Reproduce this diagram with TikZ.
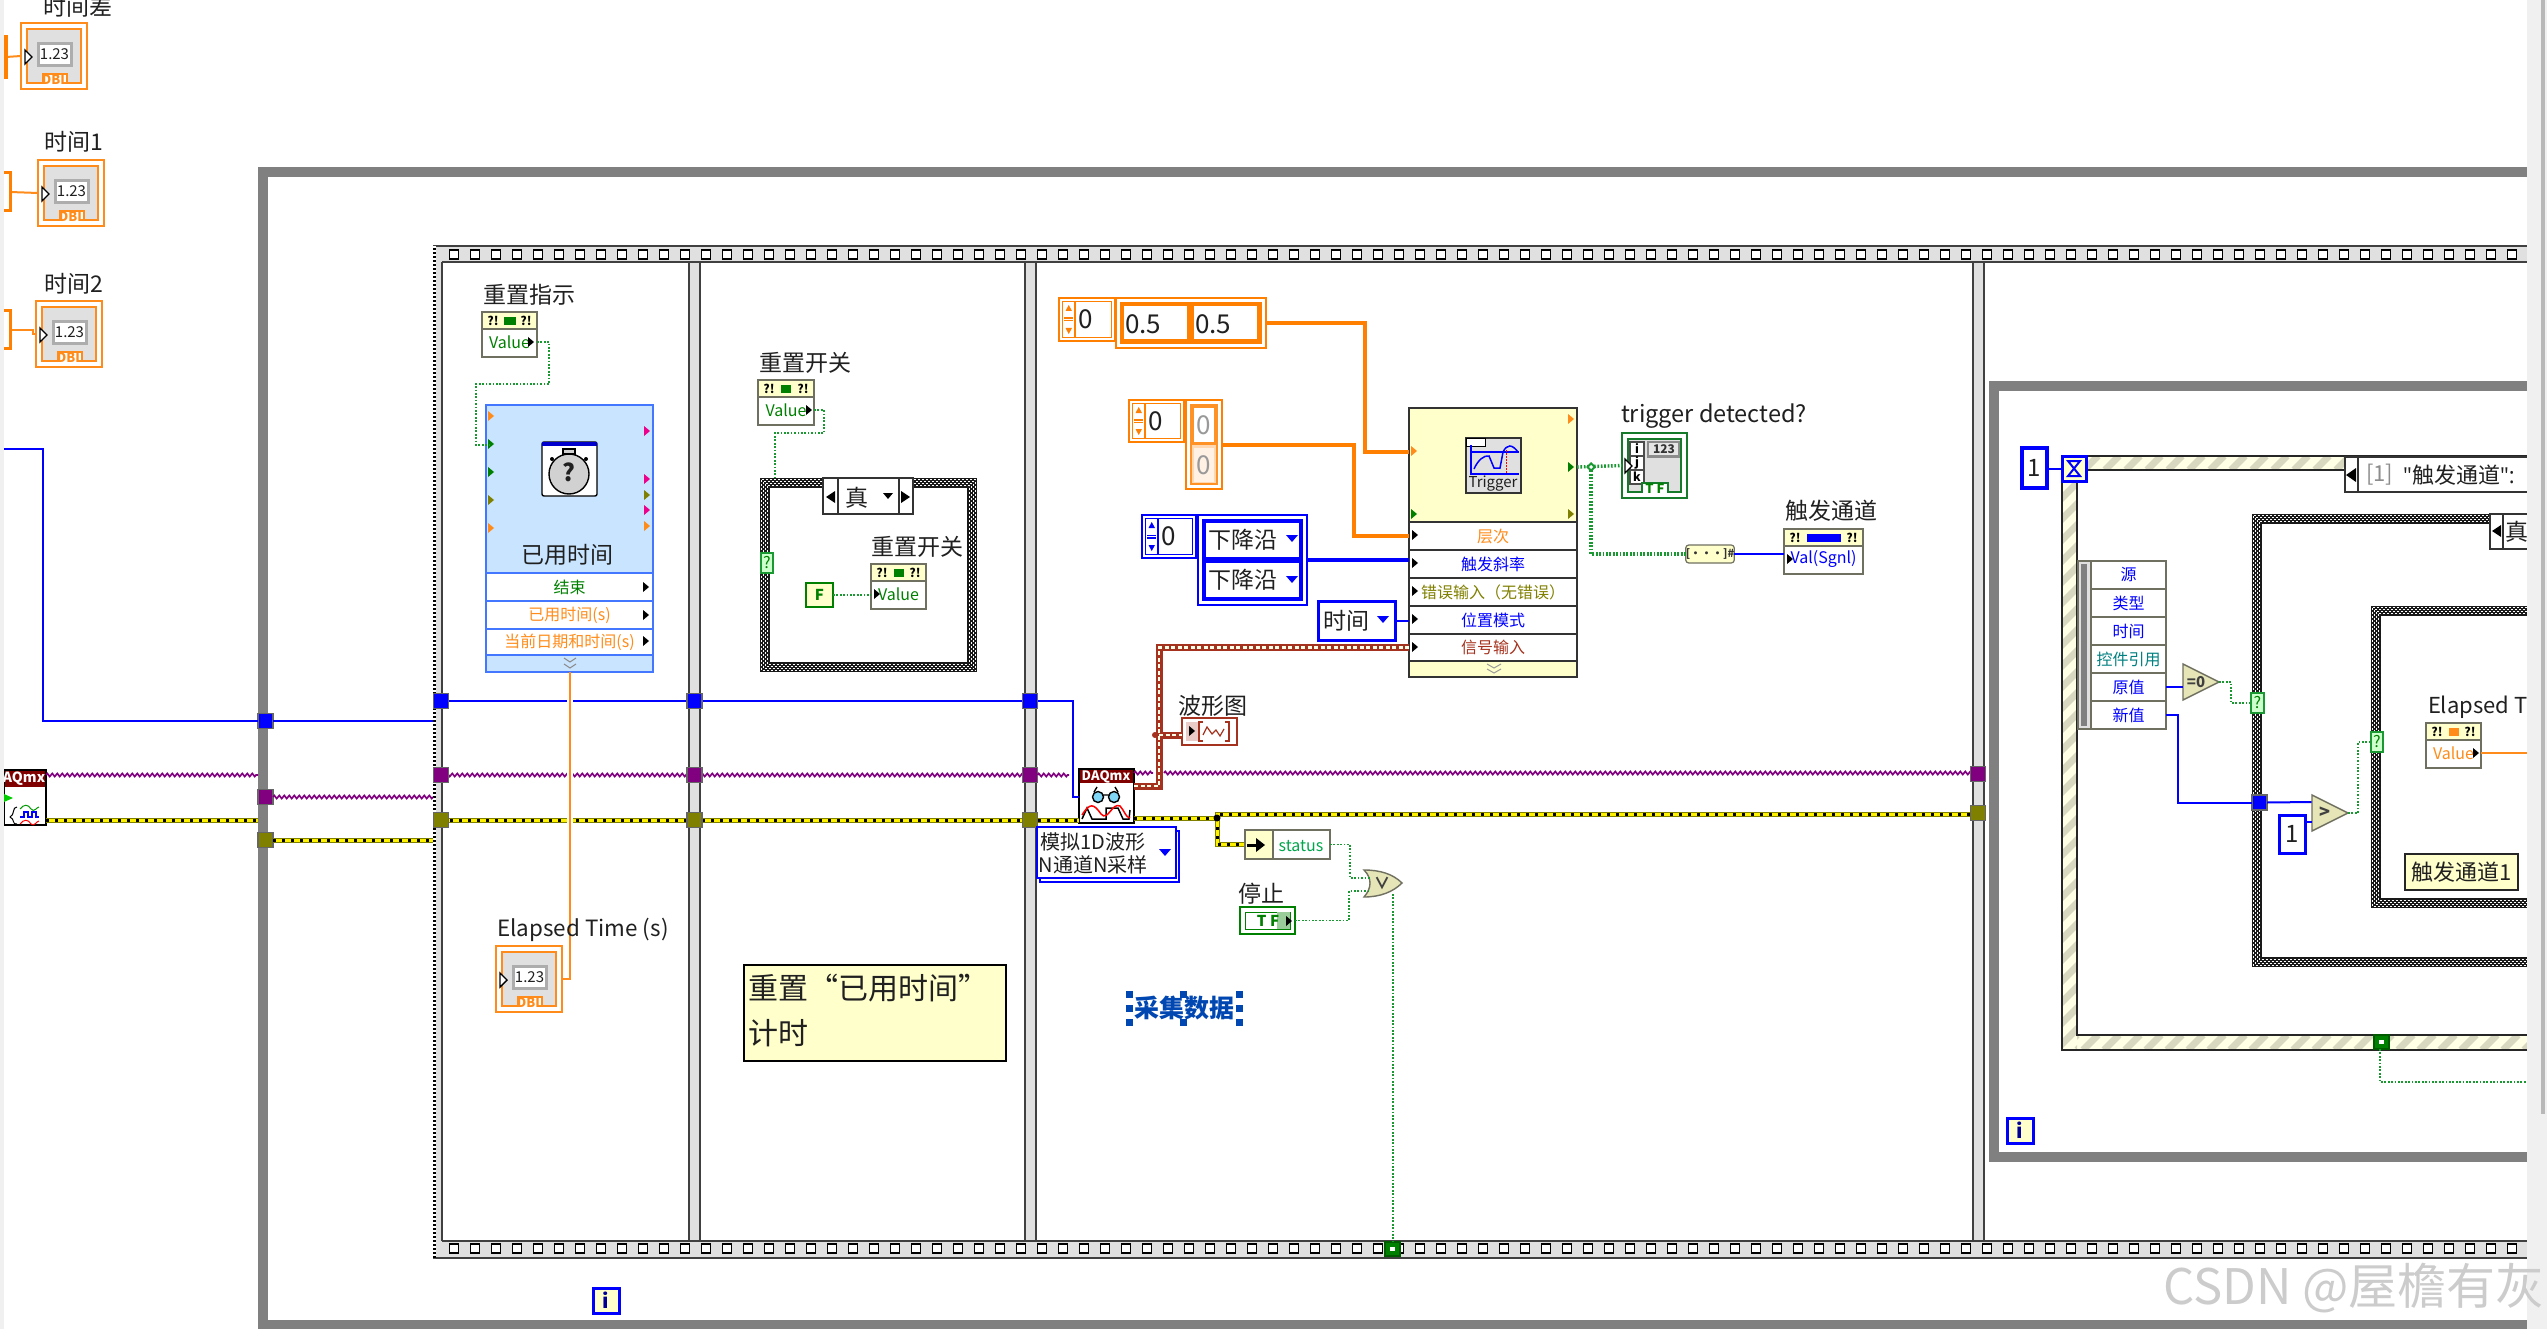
\documentclass[tikz,border=0pt]{standalone}
\usepackage{fontspec}
\setmainfont{Noto Sans CJK SC}
\newfontfamily\latf{Open Sans}
\usetikzlibrary{decorations.pathmorphing}
\definecolor{wor}{HTML}{FF8C1A}
\definecolor{wor2}{HTML}{FF7F00}
\definecolor{wbl}{HTML}{0000FF}
\definecolor{wpu}{HTML}{800080}
\definecolor{wgr}{HTML}{1A9933}
\definecolor{dgr}{HTML}{008000}
\definecolor{olv}{HTML}{808000}
\definecolor{cream}{HTML}{FFFFCC}
\definecolor{cream2}{HTML}{FFFFE6}
\definecolor{strp}{HTML}{D8D8C0}
\definecolor{lg}{HTML}{E0E0E0}
\definecolor{ink}{HTML}{202020}
\definecolor{edgeg}{HTML}{707060}
\definecolor{brn}{HTML}{A5321E}
\definecolor{xpb}{HTML}{4477FF}
\definecolor{xpf}{HTML}{C8E4FF}
\newcommand{\fpx}[1]{\fontsize{#1}{#1}\selectfont}
\newcommand{\dnt}[1]{\raisebox{-2pt}{#1}}
\tikzset{
 lbl/.style={font=\fpx{23},inner sep=0,outer sep=0,text=ink},
 smalltxt/.style={font=\fpx{16},inner sep=0,outer sep=0},
 bw/.style={wbl,line width=2},
 bwk/.style={wbl,line width=3.2},
 owk/.style={wor2,line width=4},
 ow/.style={wor,line width=2},
 gdot/.style={wgr,line width=1.7,dash pattern=on 1.7 off 1.7},
 gdotk/.style={wgr,line width=3.4,dash pattern=on 1.7 off 1.7},
 pwire/.style={wpu,line width=1.7,decorate,decoration={zigzag,segment length=5,amplitude=1.5}},
 ybase/.style={olv,line width=5},
 yfill/.style={yellow,line width=3},
 ydash/.style={black,line width=3,dash pattern=on 3 off 6},
 rbase/.style={brn,line width=7},
 rdash/.style={white!90!yellow,line width=2.2,dash pattern=on 4 off 2.5},
 seqline/.style={black!75,line width=1.3},
 perf/.style={draw=black,line width=1.6,fill=white},
}
% name x1 y1 x2 y2 style text
\newcommand{\rbox}[7]{\node[inner sep=0,outer sep=0,minimum width={(#4)-(#2)},minimum height={(#5)-(#3)},#6] (#1) at ({((#2)+(#4))/2},{((#3)+(#5))/2}) {#7};}
\newcommand{\tri}[3]{\fill[#3] ({#1-3},{#2-5}) -- ({#1+3},#2) -- ({#1-3},{#2+5}) -- cycle;}
\newcommand{\tun}[4]{\rbox{#1}{#2-7.5}{#3-7.5}{#2+7.5}{#3+7.5}{fill=#4,draw=black!60,line width=1.2}{}}
\newcommand{\dblind}[3]{%
 \rbox{#1}{#2}{#3}{#2+66}{#3+66}{draw=wor,line width=1.8,fill=white}{}
 \begin{scope}[shift={(#2,#3)}]
 \draw[wor,line width=1.8,fill=lg] (6,6) rectangle (60,60);
 \fill[black!32] (16,19) rectangle (52,44);
 \fill[white] (19,22) rectangle (49,41);
 \node[font=\fpx{15},text=ink,inner sep=0] at (33.5,31.5) {1.23};
 \draw[wor,line width=1.6,fill=white] (22,61) -- (22,51) -- (46,51) -- (46,61);
 \node[font=\fpx{13}\bfseries,text=wor,inner sep=0] at (34,57) {DBL};
 \draw[black,line width=1.4,fill=white] (4,27) -- (11,34) -- (4,41) -- cycle;
 \end{scope}}
% local variable: name x1 y1 x2 text colour halfbar
\newcommand{\lvar}[7]{%
 \rbox{#1}{#2}{#3}{#4}{#3+45}{draw=edgeg,line width=1.6,fill=white}{}
 \draw[edgeg,line width=1.4,fill=cream] (#2,#3) rectangle (#4,{#3+17});
 \node[font=\fpx{12}\bfseries,inner sep=0] at ({#2+11},{#3+8.5}) {?!};
 \node[font=\fpx{12}\bfseries,inner sep=0] at ({#4-11},{#3+8.5}) {?!};
 \fill[#6] ({(#2+#4)/2-#7},{#3+5}) rectangle ({(#2+#4)/2+#7},{#3+13});
 \node[smalltxt,text=#6] at ({(#2+#4)/2},{#3+30}) {#5};
}
\newcommand{\spinner}[6]{% name x1 y1 x2 y2 colour
 \rbox{#1}{#2}{#3}{#4}{#5}{draw=#6,line width=1.4,fill=white}{}
 \draw[#6,line width=1.2] ({#2+3.5},{#3+3.5}) rectangle ({#4-3.5},{#5-3.5});
 \draw[#6,line width=1.2,fill=white] ({#2+3.5},{#3+3.5}) rectangle ({#2+16},{#5-3.5});
 \fill[#6] ({#2+5},{(#3+#5)/2-2}) rectangle ({#2+14},{(#3+#5)/2-.5});
 \fill[#6] ({#2+5},{(#3+#5)/2+.5}) rectangle ({#2+14},{(#3+#5)/2+2});
 \fill[#6] ({#2+9.7},{#3+7}) -- ({#2+13},{#3+13}) -- ({#2+6.5},{#3+13}) -- cycle;
 \fill[#6] ({#2+9.7},{#5-7}) -- ({#2+13},{#5-13}) -- ({#2+6.5},{#5-13}) -- cycle;
 \node[font=\fpx{26},text=ink,inner sep=0] at ({#2+27},{(#3+#5)/2}) {0};
}
\newcommand{\casebd}[4]{%
 \draw[black!90,line width=10] ({#1+5},{#2+5}) rectangle ({#3-5},{#4-5});
 \foreach \i in {1.5,3.5,5.5,7.5}
  \draw[white,line width=1.5,dash pattern=on 2 off 2] ({#1+\i},{#2+\i}) rectangle ({#3-\i},{#4-\i});
}
\newcommand{\stripes}[4]{%
 \begin{scope}
 \clip (#1,#2) rectangle (#3,#4);
 \fill[cream2] (#1,#2) rectangle (#3,#4);
 \pgfmathtruncatemacro{\nn}{(#3-#1+#4-#2)/21+1}
 \foreach \k in {0,...,\nn}
  \draw[strp,line width=7] ({#1-(#4-#2)+21*\k},#4) -- ({#1+21*\k},#2);
 \end{scope}
}
\begin{document}
\begin{tikzpicture}[x=1pt,y=-1pt]
\useasboundingbox (0,0) rectangle (2547,1329);
\fill[white] (0,0) rectangle (2547,1329);
\begin{scope}
\clip (4,-5) rectangle (2527,1329);
% ---------- outer while loop
\draw[black!50,line width=10] (2600,172) -- (263,172) -- (263,1325) -- (2600,1325);
% ---------- flat sequence frame
\fill[lg] (433,246) rectangle (2600,262);
\fill[lg] (433,1241) rectangle (2600,1258);
\fill[lg] (433,246) rectangle (442,1258);
\foreach \a/\b in {689/700,1025/1036,1973/1984}{
 \fill[lg] (\a,246) rectangle (\b,1258);
 \draw[seqline] (\a,262) -- (\a,1241);
 \draw[seqline] (\b,262) -- (\b,1241);
}
\draw[seqline] (442,262) -- (442,1241);
\draw[seqline] (433,246) -- (2600,246);
\draw[seqline] (442,262) -- (2600,262);
\draw[seqline] (442,1241) -- (2600,1241);
\draw[seqline] (433,1258) -- (2600,1258);
\draw[black,line width=2.4] (434.5,246) -- (434.5,1258);
\draw[white,line width=2.4,dash pattern=on 2 off 2] (434.5,246) -- (434.5,1258);
\foreach \k in {0,...,98}{
 \draw[perf] ({449.5+21*\k},250) rectangle +(9,9);
 \draw[perf] ({449.5+21*\k},1244) rectangle +(9,9);
}
% ---------- left indicators
\node[lbl] (lcha) at (78,7) {时间差};
\node[lbl] (lt1) at (74,142) {时间1};
\node[lbl] (lt2) at (74,284) {时间2};
\dblind{icha}{21}{23}
\dblind{it1}{38}{160}
\dblind{it2}{36}{301}
\coordinate (bcha) at (6,57);
\coordinate (bt1) at (10,192);
\coordinate (bt2) at (10,330);
\draw[ow] (bcha) -- (icha.west);
\draw[ow] (bt1) -- (it1.west);
\draw[ow] (bt2) -- ++(23,0) -- ++(0,4) -- (it2.west);
\draw[wor2,line width=3.5] (4,37) -- (6,37) -- (6,77) -- (4,77);
\draw[wor2,line width=3] (4,173) -- (10,173) -- (10,211) -- (4,211);
\draw[wor2,line width=3] (4,311) -- (10,311) -- (10,348) -- (4,348);
% ---------- AQmx task node
\rbox{aq}{4}{770}{46}{825}{draw=black,line width=1.5,fill=white}{}
\fill[red!50!black] (5,771) rectangle (45,787);
\node[font=\fpx{14}\bfseries,text=white,inner sep=0] at (24,779) {AQmx};
\fill[green!80!black] (4,794) -- (13,798) -- (4,802) -- cycle;
\draw[black,line width=1] (17,807) .. controls (12,807) and (15,815) .. (10,817) .. controls (15,819) and (12,825) .. (17,824);
\draw[green!60!black,line width=1] (20,809) .. controls (24,804) and (28,804) .. (31,809) .. controls (34,813) and (37,807) .. (39,807);
\draw[wbl,line width=1.2] (20,817) -- (24,817) -- (24,812) -- (28,812) -- (28,817) -- (32,817) -- (32,812) -- (36,812) -- (36,817) -- (39,817);
\draw[red,line width=1] (20,824) .. controls (24,819) and (28,819) .. (31,824) .. controls (34,827) and (37,821) .. (39,821);
% ---------- tunnels
\tun{t1b}{265.5}{721}{wbl}
\tun{t1p}{265.5}{797}{wpu}
\tun{t1y}{265.5}{840}{olv}
\coordinate (sb) at (4,449);
\draw[bw] (sb) -- ++(39,0) |- (t1b.west);
\draw[bw] (t1b.east) -- (433,721);
\draw[pwire] (aq.east |- 0,775) -- (258,775);
\draw[pwire] (t1p.east) -- (433,797);
\foreach \s in {ybase,yfill,ydash}{
 \draw[\s] (aq.east |- 0,820) -- (258,820);
 \draw[\s] (t1y.east) -- (433,840);
}
% ---------- wires through frames
\draw[bw] (441,701) -- (1030,701);
\draw[pwire] (441,775) -- (1030,775);
\foreach \s in {ybase,yfill,ydash}{\draw[\s] (441,820) -- (1030,820);}
\tun{t2b}{441}{701}{wbl}
\tun{t2p}{441}{775}{wpu}
\tun{t2y}{441}{820}{olv}
\tun{t3b}{694.5}{701}{wbl}
\tun{t3p}{694.5}{775}{wpu}
\tun{t3y}{694.5}{820}{olv}
\tun{t4b}{1030}{701}{wbl}
\tun{t4p}{1030}{775}{wpu}
\tun{t4y}{1030}{820}{olv}
% ---------- frame 1
\node[lbl] (l1) at (529,295) {重置指示};
\lvar{v1}{482}{312}{537}{Value}{dgr}{6}
\tri{531}{342}{black}
\rbox{ev}{486}{405}{653}{672}{draw=xpb,line width=2,fill=xpf}{}
\node[lbl] at (567,555) {已用时间};
\rbox{evr1}{486}{573}{653}{601}{draw=xpb,line width=1.5,fill=white,smalltxt,text=dgr}{\dnt{结束}}
\rbox{evr2}{486}{601}{653}{629}{draw=xpb,line width=1.5,fill=white,smalltxt,text=wor}{\dnt{已用时间(s)}}
\rbox{evr3}{486}{629}{653}{655}{draw=xpb,line width=1.5,fill=white,smalltxt,text=wor}{\dnt{当前日期和时间(s)}}
\foreach \yy in {587,615,641} {\tri{646}{\yy}{black}}
\foreach \yy/\cc in {416/wor,444/dgr,472/dgr,500/olv,528/wor} {\tri{491}{\yy}{\cc}}
\foreach \yy/\cc in {431/magenta,479/magenta,495/olv,510/magenta,526/wor} {\tri{647}{\yy}{\cc}}
\draw[black!45,line width=1] (564,658) -- (570,662) -- (576,658) (564,664) -- (570,668) -- (576,664);
\rbox{clk}{542}{442}{597}{496}{draw=black,line width=1.4,fill=white,rounded corners=2}{}
\fill[blue!80!black] (542,442) rectangle (597,446);
\draw[black,line width=1.4,fill=black!18] (569,474) circle (20);
\draw[black,line width=1.4,fill=black!18] (563,449) rectangle (575,454);
\fill[black] (552,459) circle (2) (586,459) circle (2);
\node[font=\fpx{24}\bfseries,inner sep=0,text=ink] at (569,472) {?};
\coordinate (evg) at (489,445);
\draw[gdot] (v1.east |- 0,342) -- ++(12,0) -- ++(0,42) -- ++(-73,0) |- (evg);
\dblind{ie}{496}{946}
\draw[white,line width=6] (570,695) -- (570,830);
\draw[ow] (ev.south -| 570,0) -- ++(0,307) -- (ie.east |- 0,979);
\node[lbl,font=\fpx{22.4}] (el1) at (583,929.5) {Elapsed Time (s)};
% ---------- frame 2
\node[lbl] (l2) at (805,363) {重置开关};
\lvar{v2}{758}{380}{814}{Value}{dgr}{5}
\tri{809}{410}{black}
\casebd{760}{478}{977}{672}
\rbox{sel2}{823}{478}{913}{514}{draw=black!80,line width=1.4,fill=white}{}
\draw[black!80,line width=1.4] (838,478) -- (838,514) (899,478) -- (899,514);
\node[lbl] at (857,498) {真};
\fill[black] (826,497) -- (835,491) -- (835,503) -- cycle;
\fill[black] (910,497) -- (901,491) -- (901,503) -- cycle;
\fill[black] (883,493) -- (893,493) -- (888,499) -- cycle;
\rbox{q2}{761}{553}{773}{573}{draw=wgr,line width=1.2,fill=white!80!green,smalltxt,text=dgr}{?}
\coordinate (c2top) at (775,478);
\draw[gdot] (v2.east |- 0,410) -- ++(10,0) -- ++(0,23) -- ++(-49,0) -- (c2top);
\node[lbl] (l3) at (917,547) {重置开关};
\lvar{v3}{871}{564}{926}{Value}{dgr}{5}
\tri{877}{594}{black}
\rbox{fc}{806}{583}{833}{607}{draw=dgr,line width=2.6,fill=cream,font=\fpx{15}\bfseries,text=dgr}{F}
\draw[gdot] (fc.east) -- (v3.west |- fc.east);
\rbox{cmt}{744}{965}{1006}{1061}{draw=black,line width=1.2,fill=cream}{}
\node[font=\fpx{30},inner sep=0,anchor=west,text=ink] at (748,988) {重置“已用时间”};
\node[font=\fpx{30},inner sep=0,anchor=west,text=ink] at (748,1033) {计时};
% ---------- frame 3 constants
\spinner{i1}{1059}{298}{1115}{341}{wor2}
\rbox{ar1}{1116}{298}{1266}{348}{draw=wor2,line width=1.2,fill=white}{}
\fill[wor2] (1120,302) rectangle (1262,344);
\rbox{c11}{1124}{306}{1187}{339}{fill=white}{}
\rbox{c12}{1194}{306}{1257}{339}{fill=white}{}
\node[font=\fpx{26},text=ink,inner sep=0,anchor=west] at (1125,324) {0.5};
\node[font=\fpx{26},text=ink,inner sep=0,anchor=west] at (1195,324) {0.5};
\spinner{i2}{1129}{400}{1184}{442}{wor2}
\rbox{ar2}{1186}{400}{1222}{489}{draw=wor2,line width=1.2,fill=white}{}
\fill[wor2!85] (1190,404) rectangle (1218,485);
\fill[wor2!30] (1192,445) rectangle (1216,483);
\rbox{c21}{1194}{408}{1214}{442}{fill=white,font=\fpx{26},text=black!40}{0}
\rbox{c22}{1194}{448}{1214}{482}{fill=white!90!wor2,font=\fpx{26},text=black!40}{0}
\spinner{i3}{1142}{515}{1196}{558}{wbl}
\rbox{ar3}{1198}{515}{1307}{605}{draw=wbl,line width=1.2,fill=white}{}
\fill[wbl] (1202,519) rectangle (1303,601);
\rbox{c31}{1206}{523}{1299}{557}{fill=white}{}
\rbox{c32}{1206}{563}{1299}{597}{fill=white}{}
\node[lbl] at (1243,540) {下降沿};
\node[lbl] at (1243,580) {下降沿};
\fill[wbl] (1286,535) -- (1298,535) -- (1292,542) -- cycle;
\fill[wbl] (1286,576) -- (1298,576) -- (1292,583) -- cycle;
\rbox{en}{1318}{601}{1395}{640}{draw=wbl,line width=3,fill=white}{}
\node[lbl] at (1346,621) {时间};
\fill[wbl] (1377,616) -- (1389,616) -- (1383,623) -- cycle;
% ---------- trigger express VI
\rbox{tg}{1409}{408}{1577}{677}{draw=black!80,line width=1.8,fill=cream}{}
\rbox{rL}{1409}{522}{1577}{550}{draw=black!80,line width=1.6,fill=white,smalltxt,text=wor}{\dnt{层次}}
\rbox{rS}{1409}{550}{1577}{578}{draw=black!80,line width=1.6,fill=white,smalltxt,text=wbl}{\dnt{触发斜率}}
\rbox{rE}{1409}{578}{1577}{606}{draw=black!80,line width=1.6,fill=white,smalltxt,text=olv}{\dnt{错误输入（无错误）}}
\rbox{rP}{1409}{606}{1577}{634}{draw=black!80,line width=1.6,fill=white,smalltxt,text=wbl}{\dnt{位置模式}}
\rbox{rI}{1409}{634}{1577}{661}{draw=black!80,line width=1.6,fill=white,smalltxt,text=brn}{\dnt{信号输入}}
\foreach \yy in {535,563,591,619,647} {\tri{1415}{\yy}{black}}
\tri{1414}{451}{wor}
\tri{1414}{514}{dgr}
\tri{1571}{419}{wor}
\tri{1571}{467}{dgr}
\tri{1571}{514}{olv}
\draw[black!40,line width=1] (1487,664) -- (1494,668) -- (1501,664) (1487,669) -- (1494,673) -- (1501,669);
\rbox{trg}{1466}{438}{1521}{493}{draw=black!80,line width=1.6,fill=lg}{}
\draw[black,line width=1,fill=white] (1466,438) rectangle (1485,446);
\draw[wbl,line width=1.4] (1471,445) -- (1471,474) -- (1519,474);
\draw[wbl,line width=1.4] (1471,452) -- (1519,452);
\draw[wbl,line width=1.5] (1474,469) .. controls (1478,460) and (1484,455) .. (1489,456) -- (1494,468) -- (1500,468) -- (1503,452) .. controls (1507,444) and (1512,444) .. (1518,452);
\draw[red,line width=1,dash pattern=on 1.5 off 1.5] (1506,450) -- (1506,474);
\node[font=\fpx{15},inner sep=0,text=ink] at (1493,484) {Trigger};
\coordinate (tgA) at (1409,452);
\coordinate (tgO) at (1577,467);
\draw[owk] (ar1.east) -- ++(99,0) |- (tgA);
\draw[owk] (ar2.east) -- ++(132,0) |- (rL.west);
\draw[bwk] (ar3.east) -- (ar3.east -| rS.west);
\draw[bw] (en.east) -- (en.east -| rP.west);
% ---------- outputs
\node[lbl,font=\fpx{23.5}] (ltd) at (1714,416) {trigger detected?};
\rbox{tf}{1622}{433}{1687}{498}{draw=wgr!80!black,line width=1.8,fill=white}{}
\draw[wgr!80!black,line width=1.8,fill=lg] (1628,439) rectangle (1681,492);
\fill[black!45] (1647,441) rectangle (1680,458);
\fill[black!10] (1649,443) rectangle (1678,455);
\fill[white] (1630,442) rectangle (1644,484);
\draw[black!70,line width=1.2] (1630,442) rectangle (1644,484) (1630,456) -- (1644,456) (1630,470) -- (1644,470);
\node[font=\fpx{12}\bfseries,inner sep=0] at (1637,449) {i};
\node[font=\fpx{12}\bfseries,inner sep=0] at (1637,463) {j};
\node[font=\fpx{12}\bfseries,inner sep=0] at (1637,477) {k};
\node[font=\fpx{12}\bfseries,inner sep=0,text=black!80] at (1664,449) {123};
\draw[wgr!80!black,line width=1.6,fill=white] (1642,493) -- (1642,483) -- (1668,483) -- (1668,493);
\node[font=\fpx{13}\bfseries,inner sep=0,text=dgr] at (1655,488.5) {T F};
\draw[black,line width=1.2,fill=white] (1625,459) -- (1632,466) -- (1625,473) -- cycle;
\node[lbl] (ltc) at (1831,511) {触发通道};
\lvar{v4}{1784}{529}{1863}{Val(Sgnl)}{wbl}{17}
\tri{1790}{559}{black}
\rbox{a2n}{1688}{545}{1732}{563}{draw=edgeg,line width=1.2,fill=cream,rounded corners=3,font=\fpx{11}\bfseries,text=black!80}{[···]\#}
\coordinate (jn) at (1591,467);
\draw[gdotk] (tgO) -- (tf.west);
\draw[gdotk] (jn) |- (a2n.west);
\fill[wgr] (1591,462) -- (1596,467) -- (1591,472) -- (1586,467) -- cycle;
\fill[white] (1591,465) -- (1593,467) -- (1591,469) -- (1589,467) -- cycle;
\draw[bw] (a2n.east) -- (a2n.east -| v4.west);
% ---------- DAQmx read
\rbox{daq}{1079}{769}{1134}{823}{draw=black,line width=1.6,fill=white}{}
\fill[red!50!black] (1080,770) rectangle (1133,783);
\node[font=\fpx{13}\bfseries,text=white,inner sep=0] at (1106,777) {DAQmx};
\draw[black,line width=1.4,fill=cyan!50] (1098,797) circle (5.5) (1114,797) circle (5.5);
\draw[black,line width=1.4] (1103,795) -- (1109,795) (1094,792) -- (1097,787) (1118,792) -- (1115,787);
\draw[black,line width=1.5] (1082,819) -- (1087,808) -- (1092,819) -- (1106,819) -- (1106,808) -- (1118,808) -- (1123,819) -- (1129,819) -- (1130,810);
\draw[red,line width=1.5] (1082,815) .. controls (1090,802) and (1094,804) .. (1101,814) .. controls (1108,822) and (1112,802) .. (1120,806) .. controls (1124,810) and (1126,818) .. (1130,818);
\coordinate (dqb) at (1079,797);
\draw[bw] (t4b.east) -- ++(35,0) |- (dqb);
\draw[pwire] (t4p.east) -- (1069,775);
\draw[pwire] (daq.east |- 0,773) -- (1153,773);
\draw[pwire] (1164,773) -- (1978,773);
\foreach \s in {ybase,yfill,ydash}{\draw[\s] (t4y.east) -- (daq.west |- t4y.east);}
\coordinate (yj) at (1217,818);
\rbox{st}{1245}{830}{1330}{859}{draw=edgeg,line width=1.5,fill=white}{}
\foreach \s in {ybase,yfill,ydash}{
 \draw[\s] (daq.east |- yj) -- (yj) -- ++(0,-4) -- (1978,814);
 \draw[\s] (yj) |- (st.west);
}
\tun{t5p}{1978}{774}{wpu}
\tun{t5y}{1978}{813}{olv}
\fill[black] (1217,818) circle (3.5);
\draw[edgeg,line width=1.5,fill=cream] (1245,830) rectangle (1273,859);
\draw[black,line width=3] (1247,845) -- (1258,845);
\fill[black] (1256,838) -- (1265,845) -- (1256,852) -- cycle;
\node[smalltxt,text=dgr!70!cyan] at (1301,846) {status};
\rbox{en2sh}{1040}{831}{1179}{882}{draw=wbl,line width=1.6,fill=white}{}
\rbox{en2}{1037}{827}{1176}{878}{draw=wbl,line width=1.6,fill=white}{}
\node[font=\fpx{20},inner sep=0,text=ink] at (1093,842) {模拟1D波形};
\node[font=\fpx{20},inner sep=0,text=ink] at (1093,865) {N通道N采样};
\fill[wbl] (1159,849) -- (1171,849) -- (1165,856) -- cycle;
% waveform wire
\coordinate (rj) at (1159,735);
\node[lbl] (lwf) at (1213,706) {波形图};
\rbox{wf}{1182}{718}{1237}{745}{draw=brn,line width=1.6,fill=white}{}
\fill[brn!25] (1186,722) rectangle (1199,741);
\tri{1192}{731}{black}
\draw[brn,line width=1.4] (1203,722) -- (1199,722) -- (1199,741) -- (1203,741) (1225,722) -- (1229,722) -- (1229,741) -- (1225,741);
\draw[brn,line width=1.2] (1203,735) -- (1207,727) -- (1212,734) -- (1216,730) -- (1220,736) -- (1224,729);
\foreach \s in {rbase,rdash}{
 \draw[\s] (daq.east |- 0,786) -| (rj) |- (rI.west);
 \draw[\s] (rj) -- (wf.west |- rj);
}
\fill[brn] (1155,735) circle (3);
% or gate, stop
\coordinate (orA) at (1370,878);
\coordinate (orB) at (1368,891);
\coordinate (orO) at (1393,894);
\draw[edgeg,line width=1.4,fill=cream!90!black] (1364,870) .. controls (1380,870) and (1393,874) .. (1402,883) .. controls (1393,892) and (1380,897) .. (1364,897) .. controls (1372,888) and (1372,878) .. (1364,870) -- cycle;
\node[font=\fpx{16}\bfseries,inner sep=0,text=black!75] at (1382,883) {∨};
\node[lbl] (lst) at (1261,894) {停止};
\rbox{stp}{1240}{907}{1295}{934}{draw=dgr,line width=2.8,fill=white}{}
\draw[dgr,line width=1] (1245,912) rectangle (1290,929);
\fill[dgr!40] (1277,912) rectangle (1290,929);
\node[font=\fpx{15}\bfseries,inner sep=0,text=dgr] at (1268,921) {T F};
\tri{1289}{921}{black}
\draw[gdot] (st.east) -- ++(20,0) |- (orA);
\draw[gdot] (stp.east) -- ++(54,0) |- (orB);
\rbox{cond}{1385}{1242}{1400}{1256}{fill=dgr,draw=dgr!70!black,line width=1.2}{}
\fill[white] (1390,1247) rectangle (1395,1251);
\draw[gdot] (orO) -- (cond.north -| orO);
\rbox{cap}{1129}{994}{1239}{1022}{font=\fpx{25}\bfseries,text=blue!60!cyan!70!black}{采集数据}
\foreach \hx in {1129,1183,1239}\foreach \hy in {994,1022}{\fill[blue!60!cyan!70!black] ({\hx-3.5},{\hy-3.5}) rectangle ++(7,7);}
\foreach \hx in {1129,1239}{\fill[blue!60!cyan!70!black] ({\hx-3.5},1004.5) rectangle ++(7,7);}
% info terminal
\rbox{iA}{593}{1288}{619}{1313}{draw=wbl,line width=3,fill=cream,font=\fpx{20}\bfseries,text=blue!60!black}{i}
% ---------- frame 4: inner while
\draw[black!50,line width=10] (2600,385.5) -- (1994,385.5) -- (1994,1157) -- (2600,1157);
\rbox{iB}{2007}{1118}{2033}{1143}{draw=wbl,line width=3,fill=cream,font=\fpx{20}\bfseries,text=blue!60!black}{i}
% event structure
\stripes{2077}{456}{2600}{470}
\stripes{2077}{1035}{2600}{1050}
\stripes{2062}{456}{2077}{1050}
\draw[black!85,line width=1.5] (2600,456) -- (2062,456) -- (2062,1050) -- (2600,1050);
\draw[black!85,line width=1.5] (2600,470) -- (2077,470) -- (2077,1035) -- (2600,1035);
\rbox{sev}{2345}{457}{2600}{492}{draw=black!80,line width=1.4,fill=white}{}
\draw[black!80,line width=1.4] (2358,457) -- (2358,492);
\fill[black] (2346,475) -- (2356,468) -- (2356,482) -- cycle;
\node[font=\fpx{22},inner sep=0,anchor=west,text=black!45] (evn) at (2366,475) {[1]};
\node[font=\fpx{22},inner sep=0,anchor=west,text=ink] (evt) at (2403,475) {{\latf"}触发通道{\latf":}};
\rbox{to}{2022}{448}{2047}{488}{draw=wbl,line width=3.2,fill=white,font=\fpx{24},text=ink}{1}
\rbox{hg}{2062}{456}{2086}{481}{draw=wbl,line width=3,fill=cream}{}
\draw[wbl,line width=2] (2068,461) -- (2080,461) -- (2068,476) -- (2080,476) -- cycle;
\draw[bw] (to.east |- hg.west) -- (hg.west);
% event data node
\rbox{edb}{2078}{561}{2091}{729}{draw=edgeg,line width=1.4,fill=lg}{}
\fill[black!50] (2081,564) rectangle (2087,726);
\rbox{e1}{2091}{561}{2166}{589}{draw=edgeg,line width=1.5,fill=white,smalltxt,text=wbl}{源}
\rbox{e2}{2091}{589}{2166}{617}{draw=edgeg,line width=1.5,fill=white,smalltxt,text=wbl}{类型}
\rbox{e3}{2091}{617}{2166}{645}{draw=edgeg,line width=1.5,fill=white,smalltxt,text=wbl}{时间}
\rbox{e4}{2091}{645}{2166}{673}{draw=edgeg,line width=1.5,fill=white,smalltxt,text=teal}{控件引用}
\rbox{e5}{2091}{673}{2166}{701}{draw=edgeg,line width=1.5,fill=white,smalltxt,text=wbl}{原值}
\rbox{e6}{2091}{701}{2166}{729}{draw=edgeg,line width=1.5,fill=white,smalltxt,text=wbl}{新值}
% case 2 and 3
\casebd{2252}{514}{2600}{967}
\casebd{2371}{606}{2600}{908}
\rbox{s2}{2490}{514}{2600}{549}{draw=black!80,line width=1.4,fill=white}{}
\draw[black!80,line width=1.4] (2503,514) -- (2503,549);
\fill[black] (2492,531) -- (2501,525) -- (2501,537) -- cycle;
\node[lbl,anchor=west] at (2505,532) {真};
\draw[edgeg,line width=1.4,fill=cream!90!black] (2183,664) -- (2219,682) -- (2183,700) -- cycle;
\coordinate (eq) at (2219,682);
\node[font=\fpx{15}\bfseries,inner sep=0,text=black!75] at (2196,682) {=0};
\rbox{q3}{2251}{693}{2264}{713}{draw=wgr,line width=1.2,fill=white!80!green,smalltxt,text=dgr}{?}
\rbox{q4}{2371}{732}{2383}{752}{draw=wgr,line width=1.2,fill=white!80!green,smalltxt,text=dgr}{?}
\draw[bw] (e5.east |- 0,687) -- (2183,687);
\draw[gdot] (eq) -- ++(12,0) |- (q3.west);
\coordinate (gtA) at (2312,802);
\coordinate (gtB) at (2312,822);
\coordinate (gtO) at (2348,813);
\tun{tn}{2259.5}{802.5}{wbl}
\draw[bw] (e6.east |- 0,715) -- ++(12,0) |- (tn.west);
\draw[bw] (tn.east) -- (gtA);
\draw[edgeg,line width=1.4,fill=cream!90!black] (2312,795) -- (gtO) -- (2312,831) -- cycle;
\node[font=\fpx{18}\bfseries,inner sep=0,text=black!75] at (2325,813) {>};
\rbox{c1}{2279}{815}{2305}{853}{draw=wbl,line width=3,fill=white,font=\fpx{24},text=ink}{1}
\draw[bw] (c1.east |- gtB) -- (gtB);
\draw[gdot] (gtO) -- ++(10,0) |- (q4.west);
\node[lbl,font=\fpx{22},anchor=west] (le) at (2428,707) {Elapsed T};
\lvar{v5}{2426}{723}{2481}{Value}{wor}{5}
\tri{2476}{753}{black}
\coordinate (rgt) at (2600,753);
\draw[ow] (v5.east |- rgt) -- (rgt);
\rbox{ct}{2405}{854}{2518}{890}{draw=black!85,line width=1.8,fill=cream,font=\fpx{22},text=ink}{触发通道1}
\rbox{gterm}{2374}{1035}{2389}{1049}{fill=dgr,draw=dgr!70!black,line width=1.2}{}
\fill[white] (2379,1040) rectangle (2384,1044);
\coordinate (grt) at (2600,1082);
\draw[gdot] (gterm.south -| 2380,0) |- (grt);
\end{scope}
% ---------- window edges
\fill[black!6] (0,0) rectangle (4,1329);
\fill[black!6] (2527,0) rectangle (2547,1329);
\fill[black!28] (2541,0) rectangle (2545,1114);
\node[font=\fpx{49},text=black!20,inner sep=0,anchor=east] (wm) at (2545,1288) {CSDN @屋檐有灰};
\end{tikzpicture}
\end{document}
